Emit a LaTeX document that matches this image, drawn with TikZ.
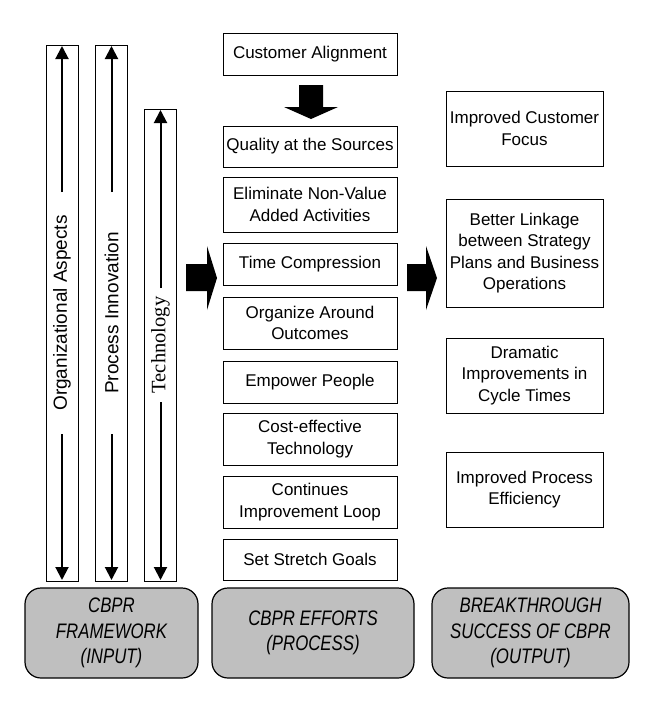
\documentclass[tikz,border=0pt]{standalone}
\usepackage{fontspec}
\setmainfont{Liberation Sans}
\newfontfamily\techfont{Liberation Serif}
\newfontfamily\condfont[FakeStretch=0.8]{Liberation Sans}
\usetikzlibrary{positioning,arrows.meta}

\begin{document}
\begin{tikzpicture}[x=1pt,y=-1pt,
  stepbox/.style={draw,line width=1pt,inner sep=2pt,minimum width=174pt,align=center,font=\fontsize{17}{21.5}\selectfont},
  outbox/.style={draw,line width=1pt,inner sep=2pt,minimum width=157pt,align=center,font=\fontsize{17}{21.5}\selectfont},
  barbox/.style={draw,line width=1pt,inner sep=0pt,minimum width=32pt},
  barlabel/.style={rotate=90,inner sep=0pt,font=\fontsize{19}{23}\selectfont},
  basebox/.style={draw,line width=1.2pt,fill=black!25,rounded corners=16pt,minimum height=90pt,align=center,font=\condfont\itshape\fontsize{21}{25.5}\selectfont},
  bararrow/.style={line width=2pt,-{Triangle[length=13pt,width=13pt]}}]
\useasboundingbox (0,0) rectangle (648,715);
% framework bars
\node[barbox,minimum height=536pt] (orgbar) at (62,313) {};
\node[barbox,minimum height=536pt] (procbar) at (111.5,313) {};
\node[barbox,minimum height=472pt] (techbar) at (160.5,345) {};
\node[barlabel] (orglab) at (orgbar.center) {Organizational Aspects};
\node[barlabel] (proclab) at (procbar.center) {Process Innovation};
\node[barlabel,font=\techfont\fontsize{20.5}{24}\selectfont] (techlab) at (techbar.center) {Technology};
\foreach \b/\d in {orgbar/121,procbar/121,techbar/57} {
  \draw[bararrow] ([yshift=\d pt]\b.center) -- ([yshift=-1.5pt]\b.north);
  \draw[bararrow] ([yshift=-\d pt]\b.center) -- ([yshift=1.5pt]\b.south);
}
% process steps
\foreach \nm/\yy/\hh/\txt in {ca/54/42/Customer Alignment,
    qs/146.5/41/Quality at the Sources,
    en/204.5/55/Eliminate Non-Value\\Added Activities,
    tc/264/42/Time Compression,
    oa/323/52/Organize Around\\Outcomes,
    ep/382/42/Empower People,
    ct/439/52/Cost-effective\\Technology,
    ci/502/52/Continues\\Improvement Loop,
    sg/559.5/41/Set Stretch Goals}
  \node[stepbox,minimum height=\hh pt] (\nm) at (310,\yy) {\txt};
% outcomes
\node[outbox,minimum height=75pt] (focus) at (524.5,128.5) {Improved Customer\\Focus};
\node[outbox,minimum height=108pt] (linkage) at (524.5,253) {Better Linkage\\between Strategy\\Plans and Business\\Operations};
\node[outbox,minimum height=75pt] (cycle) at (524.5,375.5) {Dramatic\\Improvements in\\Cycle Times};
\node[outbox,minimum height=75pt] (effic) at (524.5,489.5) {Improved Process\\Efficiency};
% block arrows
\fill (299,85) -- (323,85) -- (323,107) -- (338,107) -- (311,119) -- (284,107) -- (299,107) -- cycle;
\fill (186,264) -- (207,264) -- (207,246) -- (217,278) -- (207,310) -- (207,291) -- (186,291) -- cycle;
\fill (407,264) -- (426,264) -- (426,246) -- (437,278) -- (426,310) -- (426,291) -- (407,291) -- cycle;
% bottom labels
\node[basebox,minimum width=173pt] (inbase) at (111.5,633) {CBPR\\FRAMEWORK\\(INPUT)};
\node[basebox,minimum width=202pt] (procbase) at (313,633) {CBPR EFFORTS\\(PROCESS)};
\node[basebox,minimum width=197pt] (outbase) at (530.5,633) {BREAKTHROUGH\\SUCCESS OF CBPR\\(OUTPUT)};
\end{tikzpicture}
\end{document}
